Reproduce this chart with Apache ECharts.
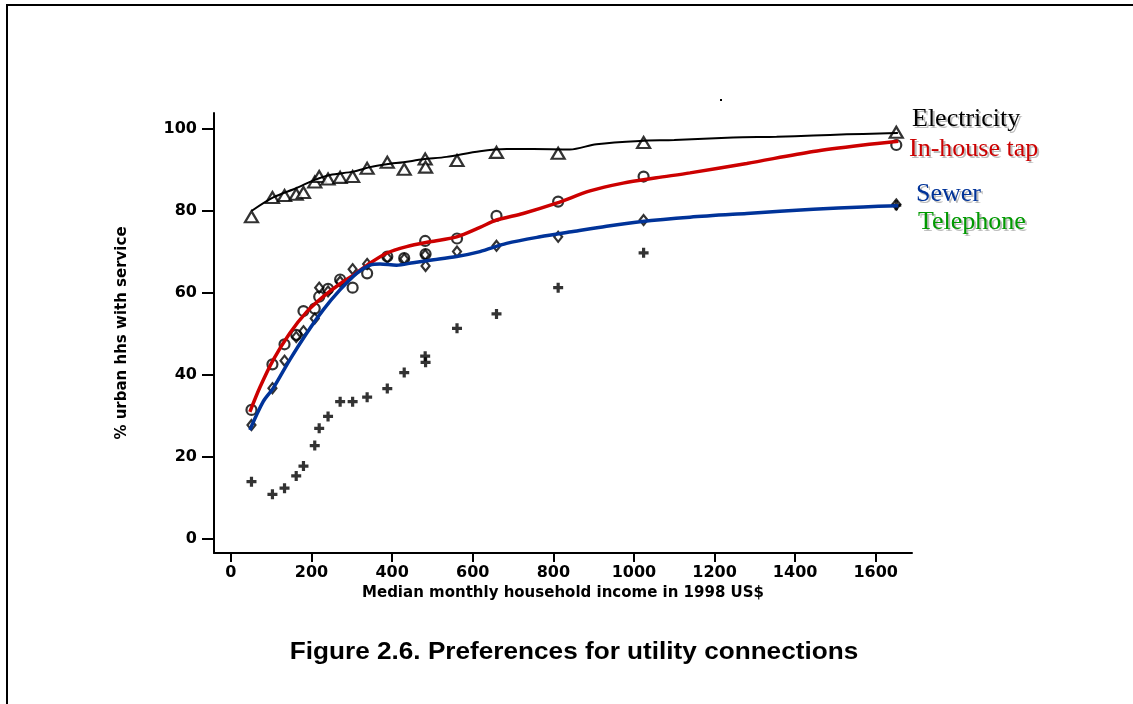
<!DOCTYPE html>
<html>
<head>
<meta charset="utf-8">
<script src="https://cdn.jsdelivr.net/npm/echarts@6/dist/echarts.min.js"></script>
<style>
  html, body { margin: 0; padding: 0; background: #ffffff; }
  #chart { width: 1133px; height: 704px; }
</style>
</head>
<body>
<div id="chart"></div>
<script>
// ---- data ----
const income      = [51, 103, 133, 162, 180, 208, 219, 241, 271, 302, 338, 388, 430, 482, 483, 561, 659, 812, 1024, 1651];
const electricity = [78.6, 83.3, 83.8, 84.1, 84.5, 87.1, 88.4, 87.8, 88.2, 88.4, 90.4, 91.9, 90.2, 92.7, 90.7, 92.3, 94.3, 94.1, 96.7, 99.2];
const inhouseTap  = [31.5, 42.6, 47.5, 49.8, 55.6, 56.2, 59.1, 61.0, 63.3, 61.3, 64.8, 68.9, 68.5, 72.7, 69.5, 73.3, 78.8, 82.3, 88.4, 96.1];
const sewer       = [27.8, 36.8, 43.5, 49.3, 50.7, 53.8, 61.3, 60.4, 62.8, 65.8, 67.1, 68.6, 68.3, 69.3, 66.6, 70.1, 71.5, 73.7, 77.8, 81.6];
const telephone   = [14.0, 10.9, 12.4, 15.4, 17.8, 22.8, 27.0, 29.9, 33.5, 33.5, 34.6, 36.7, 40.6, 44.6, 43.1, 51.4, 54.9, 61.3, 69.8, 81.4];

// smoothed fit curves
const elecFitX  = [51, 105, 163, 208, 246, 304, 345, 386, 428, 477, 535, 618, 684, 750, 841, 907, 1015, 1100, 1246, 1354, 1445, 1528, 1610, 1655];
const elecFitY  = [80.0, 83.3, 85.6, 87.6, 88.8, 89.6, 90.7, 91.4, 91.9, 92.6, 93.2, 94.6, 95.1, 95.1, 95.0, 96.3, 97.1, 97.3, 97.9, 98.1, 98.4, 98.7, 98.9, 99.0];
const tapFitX   = [47, 72, 105, 146, 188, 229, 270, 303, 338, 386, 436, 494, 560, 618, 659, 725, 808, 891, 973, 1056, 1139, 1280, 1445, 1569, 1656];
const tapFitY   = [31.0, 37.0, 43.7, 50.2, 55.4, 59.1, 62.2, 64.3, 66.8, 69.7, 71.3, 72.5, 73.7, 76.0, 77.8, 79.4, 81.9, 84.9, 86.8, 88.1, 89.3, 91.6, 94.5, 96.1, 97.0];
const sewerFitX = [47, 80, 105, 146, 188, 229, 270, 312, 345, 370, 411, 452, 494, 560, 618, 684, 767, 849, 932, 1015, 1139, 1280, 1445, 1569, 1656];
const sewerFitY = [26.6, 33.5, 36.8, 43.7, 50.2, 55.9, 60.7, 64.8, 66.8, 67.1, 66.8, 67.4, 68.0, 68.9, 70.1, 72.1, 73.7, 75.0, 76.3, 77.4, 78.5, 79.4, 80.4, 81.0, 81.3];

const xTicks = [0, 200, 400, 600, 800, 1000, 1200, 1400, 1600];
const yTicks = [0, 20, 40, 60, 80, 100];
const seriesNames = ['Electricity', 'In-house tap', 'Sewer', 'Telephone'];

// ---- build ----
const zip = (xs, ys) => xs.map((x, i) => [x, ys[i]]);
const PLUS = 'path://M3.4,0H6.6V3.4H10V6.6H6.6V10H3.4V6.6H0V3.4H3.4Z';
const tickFont = { fontFamily: 'DejaVu Sans', fontWeight: 'bold', fontSize: 16, color: '#000' };
const legendFont = '26px "Liberation Serif", serif';
const legendText = (txt, col, x, y) => [
  { type: 'text', x: x + 2, y: y + 2, silent: true,
    style: { text: txt, font: legendFont, fill: '#bdbdbd', textVerticalAlign: 'bottom' } },
  { type: 'text', x: x, y: y, silent: true,
    style: { text: txt, font: legendFont, fill: col, textVerticalAlign: 'bottom' } }
];

const chart = echarts.init(document.getElementById('chart'), null, { renderer: 'canvas' });
chart.setOption({
  backgroundColor: '#ffffff',
  animation: false,
  grid: { left: 214, top: 113, right: 221, bottom: 151, containLabel: false },
  xAxis: {
    type: 'value', min: -42, max: 1690,
    name: 'Median monthly household income in 1998 US$',
    nameLocation: 'middle', nameGap: 30,
    nameTextStyle: { fontFamily: 'DejaVu Sans', fontWeight: 'bold', fontSize: 15, color: '#000' },
    axisLine: { show: true, onZero: false, lineStyle: { color: '#000', width: 2 } },
    axisTick: { show: true, length: 9, lineStyle: { color: '#000', width: 2 }, customValues: xTicks },
    axisLabel: Object.assign({ margin: 12, customValues: xTicks, formatter: v => String(v) }, tickFont),
    splitLine: { show: false }
  },
  yAxis: {
    type: 'value', min: -3.4, max: 103.9,
    name: '% urban hhs with service',
    nameLocation: 'middle', nameGap: 84, nameRotate: 90,
    nameTextStyle: { fontFamily: 'DejaVu Sans', fontWeight: 'bold', fontSize: 15, color: '#000' },
    axisLine: { show: true, onZero: false, lineStyle: { color: '#000', width: 2 } },
    axisTick: { show: true, length: 12, lineStyle: { color: '#000', width: 2 }, customValues: yTicks },
    axisLabel: Object.assign({ margin: 17, customValues: yTicks, formatter: v => String(v) }, tickFont),
    splitLine: { show: false }
  },
  series: [
    { name: seriesNames[0], type: 'scatter', data: zip(income, electricity), symbol: 'triangle', symbolSize: [13, 11],
      itemStyle: { color: '#fff', borderColor: '#000', borderWidth: 2.2 }, z: 2 },
    { name: seriesNames[1], type: 'scatter', data: zip(income, inhouseTap), symbol: 'circle', symbolSize: 10,
      itemStyle: { color: 'rgba(255,255,255,0)', borderColor: '#000', borderWidth: 2.2 }, z: 2 },
    { name: seriesNames[2], type: 'scatter', data: zip(income, sewer), symbol: 'diamond', symbolSize: [8, 10],
      itemStyle: { color: 'rgba(255,255,255,0)', borderColor: '#000', borderWidth: 2.2 }, z: 2 },
    { name: seriesNames[3], type: 'scatter', data: zip(income, telephone), symbol: PLUS, symbolSize: 10,
      itemStyle: { color: '#000' }, z: 2 },
    { type: 'line', data: zip(elecFitX, elecFitY), smooth: 0.3, showSymbol: false,
      lineStyle: { color: '#000', width: 2 }, z: 3 },
    { type: 'line', data: zip(tapFitX, tapFitY), smooth: 0.3, showSymbol: false,
      lineStyle: { color: '#cc0000', width: 3.5 }, z: 3 },
    { type: 'line', data: zip(sewerFitX, sewerFitY), smooth: 0.3, showSymbol: false,
      lineStyle: { color: '#003399', width: 3.5 }, z: 3 }
  ],
  graphic: [
    { type: 'rect', shape: { x: 7, y: 5, width: 1130, height: 710 }, style: { fill: 'none', stroke: '#000', lineWidth: 2 }, silent: true },
    { type: 'text', x: 574, y: 652, scaleX: 1.09,
      style: { text: 'Figure 2.6. Preferences for utility connections', font: 'bold 24px "Liberation Sans", Arial, sans-serif',
               fill: '#000', textAlign: 'center', textVerticalAlign: 'middle' } },
    ...legendText(seriesNames[0], '#000000', 912, 132),
    ...legendText(seriesNames[1], '#cc0000', 909, 162),
    ...legendText(seriesNames[2], '#003399', 916, 207),
    ...legendText(seriesNames[3], '#009900', 918, 235),
    { type: 'rect', shape: { x: 720, y: 99, width: 2, height: 2 }, style: { fill: '#000' }, silent: true }
  ]
});
</script>
</body>
</html>
